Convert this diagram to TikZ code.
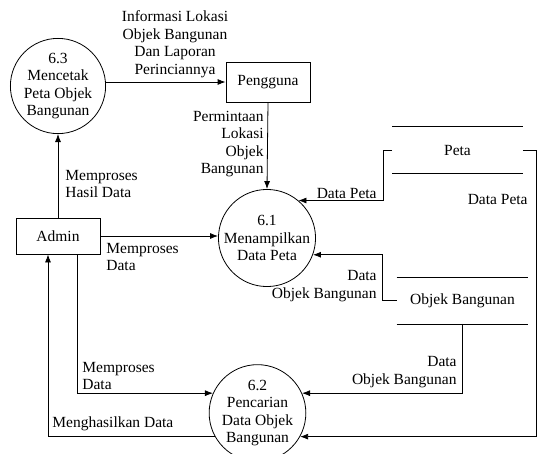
\documentclass[tikz,border=0pt]{standalone}
\usepackage{fontspec}
\setmainfont{Liberation Serif}
\usetikzlibrary{arrows.meta}
\begin{document}
\begin{tikzpicture}[x=1pt,y=-1pt,line width=0.8pt,
	every node/.style={font=\fontsize{15.5}{17.5}\selectfont},
	proses/.style={circle, draw, minimum size=90pt, inner sep=0pt, align=center},
	entitas/.style={rectangle, draw, minimum width=84pt, minimum height=36pt},
	simpan/.style={minimum width=130pt, minimum height=46pt, inner sep=0pt},
	ket/.style={inner sep=0pt, align=left},
	alir/.style={-{Latex[length=8pt,width=6pt]}}]
				\useasboundingbox (0,0) rectangle (544,453);
				% proses dan entitas
				\node[proses] (p63) at (58,86) {6.3\\Mencetak\\Peta Objek\\Bangunan};
				\node[entitas, minimum height=40pt] (pengguna) at (268,82) {Pengguna};
				\node[proses] (p61) at (267,238) {6.1\\Menampilkan\\Data Peta};
				\node[entitas] (admin) at (58,236) {Admin};
				\node[proses] (p62) at (257.5,413) {6.2\\Pencarian\\Data Objek\\Bangunan};
				% data store
				\node[simpan] (peta) at (457.5,150) {Peta};
				\node[simpan, minimum width=131pt] (objek) at (462.5,300.5) {Objek Bangunan};
				\draw (peta.north west) -- (peta.north east) (peta.south west) -- (peta.south east);
				\draw (objek.north west) -- (objek.north east) (objek.south west) -- (objek.south east);
				% aliran data
				\draw[alir] (p63.east |- pengguna.west) -- (pengguna.west);
				\draw[alir] (pengguna.south) -- (p61.north);
				\draw[alir] (admin.north) -- (p63.south);
				\draw[alir] (admin.east) -- (p61.west |- admin.east);
				\draw[alir] ([xshift=19pt]admin.south) |- (p62.156);
				\draw[alir] (p62.209) -| ([xshift=-10pt]admin.south);
				\draw[alir] (peta.west) -- ++(-9,0) |- (p61.50);
				\draw[alir] (objek.west) -- ++(-14,0) |- (p61.-20);
				\draw[alir] (objek.south) |- (p62.24);
				\draw[alir] (peta.east) -- ++(13,0) |- (p62.-29);
				% keterangan
				\node[ket, align=center] (l1) at (175,44) {Informasi Lokasi\\Objek Bangunan\\Dan Laporan\\Perinciannya};
				\node[ket, anchor=east, align=right] (l2) at (264,144) {Permintaan\\Lokasi\\Objek\\Bangunan};
				\node[ket, anchor=west] (l3) at (65,184) {Memproses\\Hasil Data};
				\node[ket, anchor=west] (l4) at (106,257) {Memproses\\Data};
				\node[ket, anchor=west] (l5) at (82,376) {Memproses\\Data};
				\node[ket, anchor=west] (l6) at (52,424) {Menghasilkan Data};
				\node[ket, anchor=east] (l7) at (377,193) {Data Peta};
				\node[ket, anchor=east] (l8) at (528,199) {Data Peta};
				\node[ket, anchor=east, align=right] (l9) at (377,286) {Data\\Objek Bangunan};
				\node[ket, anchor=east, align=right] (l10) at (457,372) {Data\\Objek Bangunan};
\end{tikzpicture}
\end{document}
